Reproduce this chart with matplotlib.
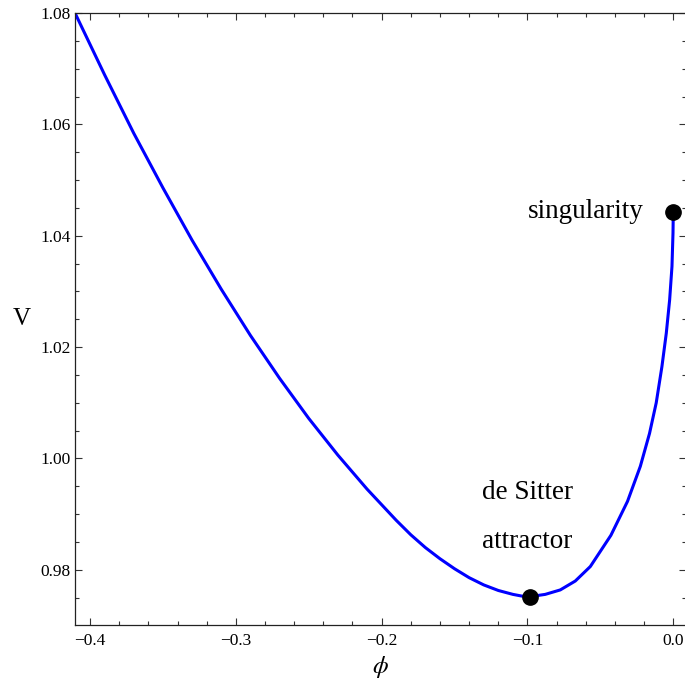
import matplotlib
matplotlib.use("Agg")
import matplotlib.pyplot as plt
from matplotlib.ticker import MultipleLocator, FuncFormatter

phi = [-0.4103, -0.39, -0.37, -0.35, -0.33, -0.31, -0.29, -0.27, -0.25, -0.23,
       -0.21, -0.19, -0.18, -0.17, -0.16, -0.15, -0.14, -0.13, -0.12, -0.11,
       -0.104, -0.0981, -0.0878, -0.0775, -0.0672, -0.0569, -0.0428, -0.0314,
       -0.0226, -0.0163, -0.0117, -0.0078, -0.0048, -0.0025, -0.0009, -0.0002, 0.0]
V = [1.0800, 1.0689, 1.0584, 1.0486, 1.0392, 1.0304, 1.0221, 1.0144, 1.0072, 1.0006,
     0.9945, 0.9889, 0.9863, 0.9840, 0.9820, 0.9802, 0.9786, 0.9773, 0.9763, 0.9756,
     0.9753, 0.9752, 0.9756, 0.9764, 0.9780, 0.9806, 0.9862, 0.9923,
     0.9986, 1.0045, 1.0100, 1.0165, 1.0225, 1.0285, 1.0345, 1.0405, 1.0443]

attractor_pt = (-0.0981, 0.9752)
singular_pt = (0.0000, 1.0443)

plt.rcParams['font.family'] = ['Liberation Serif', 'DejaVu Serif']
plt.rcParams['mathtext.fontset'] = 'stix'

fig = plt.figure(figsize=(6.85, 6.83), dpi=100)
ax = fig.add_axes([75/685, 58/683, 1 - 75/685 + 0.001, (625-13)/683])

ax.plot(phi, V, color='#0000ff', lw=2.2, solid_capstyle='round',
        solid_joinstyle='round', zorder=2)
ax.plot(*attractor_pt, 'o', color='black', ms=11, zorder=3)
ax.plot(*singular_pt, 'o', color='black', ms=11, zorder=3, clip_on=False)

ax.set_xlim(-0.4103, 0.0085)
ax.set_ylim(0.9701, 1.08)

ax.xaxis.set_major_locator(MultipleLocator(0.1))
ax.xaxis.set_minor_locator(MultipleLocator(0.02))
ax.yaxis.set_major_locator(MultipleLocator(0.02))
ax.yaxis.set_minor_locator(MultipleLocator(0.005))
ax.xaxis.set_major_formatter(FuncFormatter(lambda v, p: ('%.1f' % v).replace('-', '\u2212') if abs(v) > 1e-9 else '0.0'))
ax.yaxis.set_major_formatter(FuncFormatter(lambda v, p: '%.2f' % v))

ax.tick_params(which='both', direction='in', top=True, right=True, labelsize=12.5,
               color='#333333', width=0.8)
ax.tick_params(which='major', length=5)
ax.tick_params(which='minor', length=3)
ax.tick_params(axis='x', pad=6)
ax.tick_params(axis='y', pad=3)
ax.spines['right'].set_visible(False)
for s in ['left', 'bottom', 'top']:
    ax.spines[s].set_linewidth(0.9)
    ax.spines[s].set_color('#222222')

ax.set_xlabel(r'$\phi$', fontsize=18, labelpad=3)
ax.set_ylabel('V', fontsize=18, rotation=0, va='center', ha='center')
ax.yaxis.set_label_coords(-0.088, 0.5)

ax.text(-0.0206, 1.0443, 'singularity', fontsize=19.5, ha='right', va='center')
ax.text(-0.131, 0.99275, 'de Sitter', fontsize=19.5, ha='left', va='baseline')
ax.text(-0.131, 0.98395, 'attractor', fontsize=19.5, ha='left', va='baseline')

fig.savefig('out.png', dpi=100)
